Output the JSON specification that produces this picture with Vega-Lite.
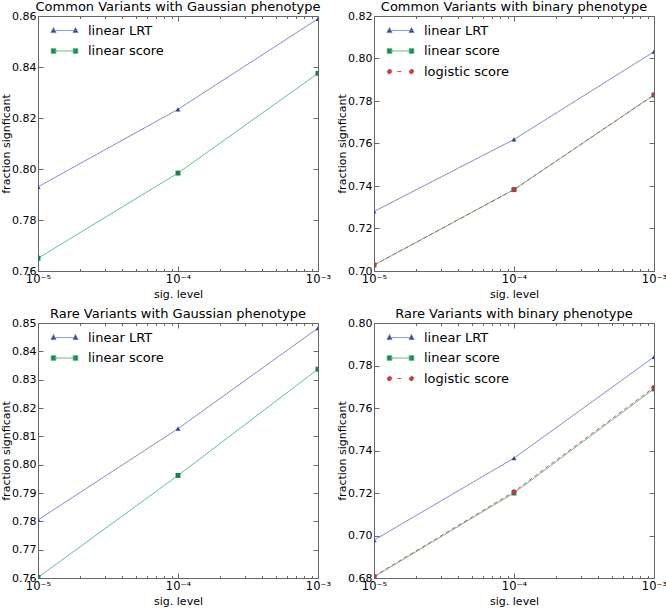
{
  "$schema": "https://vega.github.io/schema/vega-lite/v6.json",
  "autosize": {"type": "pad"},
  "padding": {"left": 0, "top": 0, "right": 0, "bottom": 0},
  "background": "white",
  "data": {"values": [
    {"panel": "cg", "series": "linear LRT", "alpha": 0.00001, "frac": 0.7930},
    {"panel": "cg", "series": "linear LRT", "alpha": 0.0001, "frac": 0.8234},
    {"panel": "cg", "series": "linear LRT", "alpha": 0.001, "frac": 0.8589},
    {"panel": "cg", "series": "linear score", "alpha": 0.00001, "frac": 0.7650},
    {"panel": "cg", "series": "linear score", "alpha": 0.0001, "frac": 0.7984},
    {"panel": "cg", "series": "linear score", "alpha": 0.001, "frac": 0.8375},
    {"panel": "cb", "series": "linear LRT", "alpha": 0.00001, "frac": 0.7280},
    {"panel": "cb", "series": "linear LRT", "alpha": 0.0001, "frac": 0.7619},
    {"panel": "cb", "series": "linear LRT", "alpha": 0.001, "frac": 0.8032},
    {"panel": "cb", "series": "linear score", "alpha": 0.00001, "frac": 0.7028},
    {"panel": "cb", "series": "linear score", "alpha": 0.0001, "frac": 0.7383},
    {"panel": "cb", "series": "linear score", "alpha": 0.001, "frac": 0.7828},
    {"panel": "cb", "series": "logistic score", "alpha": 0.00001, "frac": 0.7028},
    {"panel": "cb", "series": "logistic score", "alpha": 0.0001, "frac": 0.7383},
    {"panel": "cb", "series": "logistic score", "alpha": 0.001, "frac": 0.7829},
    {"panel": "rg", "series": "linear LRT", "alpha": 0.00001, "frac": 0.7805},
    {"panel": "rg", "series": "linear LRT", "alpha": 0.0001, "frac": 0.8127},
    {"panel": "rg", "series": "linear LRT", "alpha": 0.001, "frac": 0.8482},
    {"panel": "rg", "series": "linear score", "alpha": 0.00001, "frac": 0.7602},
    {"panel": "rg", "series": "linear score", "alpha": 0.0001, "frac": 0.7962},
    {"panel": "rg", "series": "linear score", "alpha": 0.001, "frac": 0.8337},
    {"panel": "rb", "series": "linear LRT", "alpha": 0.00001, "frac": 0.6978},
    {"panel": "rb", "series": "linear LRT", "alpha": 0.0001, "frac": 0.7364},
    {"panel": "rb", "series": "linear LRT", "alpha": 0.001, "frac": 0.7840},
    {"panel": "rb", "series": "linear score", "alpha": 0.00001, "frac": 0.6805},
    {"panel": "rb", "series": "linear score", "alpha": 0.0001, "frac": 0.7200},
    {"panel": "rb", "series": "linear score", "alpha": 0.001, "frac": 0.7690},
    {"panel": "rb", "series": "logistic score", "alpha": 0.00001, "frac": 0.6808},
    {"panel": "rb", "series": "logistic score", "alpha": 0.0001, "frac": 0.7206},
    {"panel": "rb", "series": "logistic score", "alpha": 0.001, "frac": 0.7697}
  ]},
  "columns": 2,
  "spacing": {"row": 52, "column": 56},
  "bounds": "flush",
  "concat": [
    {
      "title": {"text": "Common Variants with Gaussian phenotype", "frame": "group"},
      "width": 280, "height": 255,
      "transform": [{"filter": "datum.panel === 'cg'"}],
      "layer": [
        {"mark": {"type": "line", "strokeWidth": 1, "clip": true},
         "encoding": {
           "x": {"field": "alpha", "type": "quantitative", "scale": {"type": "log", "domain": [0.00001, 0.001]},
                 "axis": {"orient": "bottom", "title": "sig. level", "values": [0.00001,0.00002,0.00003,0.00004,0.00005,0.00006,0.00007,0.00008,0.00009,0.0001,0.0002,0.0003,0.0004,0.0005,0.0006,0.0007,0.0008,0.0009,0.001],
                          "labelExpr": "datum.value === 0.00001 ? '10⁻⁵' : datum.value === 0.0001 ? '10⁻⁴' : datum.value === 0.001 ? '10⁻³' : ''",
                          "tickSize": {"condition": {"test": "indexof([0.00001,0.0001,0.001], datum.value) >= 0", "value": -5}, "value": -2.5},
                          "labelPadding": 7, "labelFontSize": 11.5, "titlePadding": 1}},
           "y": {"field": "frac", "type": "quantitative", "scale": {"domain": [0.76, 0.86], "zero": false, "nice": false},
                 "axis": {"orient": "left", "title": "fraction signficant", "values": [0.76,0.78,0.80,0.82,0.84,0.86], "format": ".2f", "tickSize": -5, "labelPadding": 7, "titlePadding": 0}},
           "color": {"field": "series", "type": "nominal", "scale": {"range": ["#6d7dc0", "#4db57f", "#d0565b"]},
                     "legend": {"orient": "none", "legendX": 19, "legendY": 7, "title": null, "symbolSize": 196, "labelFontSize": 13, "labelOffset": 16, "rowPadding": 5.5, "padding": 0, "symbolStrokeWidth": 1,
                       "encode": {"symbols": {"update": {
                         "shape": {"signal": "datum.value === 'linear LRT' ? 'M-1.57,0H1.57M-1.57,-0.42L-1.93,0.3L-1.21,0.3ZM1.57,-0.42L1.21,0.3L1.93,0.3Z' : datum.value === 'linear score' ? 'M-1.57,0H1.57M-1.9,-0.33H-1.24V0.33H-1.9ZM1.24,-0.33H1.9V0.33H1.24Z' : 'M-1.57,0H-1.2M-0.45,0H0.45M1.2,0H1.57M-1.9,0A0.33,0.33 0 1,0 -1.24,0A0.33,0.33 0 1,0 -1.9,0ZM1.24,0A0.33,0.33 0 1,0 1.9,0A0.33,0.33 0 1,0 1.24,0Z'"},
                         "fill": {"signal": "datum.value === 'linear LRT' ? '#2f3f8f' : datum.value === 'linear score' ? '#1a7f4b' : '#c0393f'"},
                         "stroke": {"signal": "datum.value === 'linear LRT' ? '#6d7dc0' : datum.value === 'linear score' ? '#4db57f' : '#d0565b'"}
                       }}}}},
           "strokeDash": {"field": "series", "type": "nominal", "scale": {"range": [[1, 0], [1, 0], [4, 3]]}, "legend": null}
         }},
        {"mark": {"type": "point", "filled": true, "clip": true, "opacity": 1, "size": 24},
         "encoding": {
           "x": {"field": "alpha", "type": "quantitative", "scale": {"type": "log", "domain": [0.00001, 0.001]},
                 "axis": {"orient": "top", "title": null, "labels": false, "domain": false, "values": [0.00001,0.00002,0.00003,0.00004,0.00005,0.00006,0.00007,0.00008,0.00009,0.0001,0.0002,0.0003,0.0004,0.0005,0.0006,0.0007,0.0008,0.0009,0.001],
                          "tickSize": {"condition": {"test": "indexof([0.00001,0.0001,0.001], datum.value) >= 0", "value": -5}, "value": -2.5}}},
           "y": {"field": "frac", "type": "quantitative", "scale": {"domain": [0.76, 0.86], "zero": false, "nice": false},
                 "axis": {"orient": "right", "title": null, "labels": false, "domain": false, "values": [0.76,0.78,0.80,0.82,0.84,0.86], "tickSize": -5}},
           "shape": {"field": "series", "type": "nominal", "scale": {"range": ["triangle-up", "square", "circle"]}, "legend": null},
           "fill": {"field": "series", "type": "nominal", "scale": {"range": ["#2f3f8f", "#1a7f4b", "#c0393f"]}, "legend": null}
         }}
      ],
      "resolve": {"axis": {"x": "independent", "y": "independent"}}
    },
    {
      "title": {"text": "Common Variants with binary phenotype", "frame": "group"},
      "width": 280, "height": 255,
      "transform": [{"filter": "datum.panel === 'cb'"}],
      "layer": [
        {"mark": {"type": "line", "strokeWidth": 1, "clip": true},
         "encoding": {
           "x": {"field": "alpha", "type": "quantitative", "scale": {"type": "log", "domain": [0.00001, 0.001]},
                 "axis": {"orient": "bottom", "title": "sig. level", "values": [0.00001,0.00002,0.00003,0.00004,0.00005,0.00006,0.00007,0.00008,0.00009,0.0001,0.0002,0.0003,0.0004,0.0005,0.0006,0.0007,0.0008,0.0009,0.001],
                          "labelExpr": "datum.value === 0.00001 ? '10⁻⁵' : datum.value === 0.0001 ? '10⁻⁴' : datum.value === 0.001 ? '10⁻³' : ''",
                          "tickSize": {"condition": {"test": "indexof([0.00001,0.0001,0.001], datum.value) >= 0", "value": -5}, "value": -2.5},
                          "labelPadding": 7, "labelFontSize": 11.5, "titlePadding": 1}},
           "y": {"field": "frac", "type": "quantitative", "scale": {"domain": [0.70, 0.82], "zero": false, "nice": false},
                 "axis": {"orient": "left", "title": "fraction signficant", "values": [0.70,0.72,0.74,0.76,0.78,0.80,0.82], "format": ".2f", "tickSize": -5, "labelPadding": 7, "titlePadding": 0}},
           "color": {"field": "series", "type": "nominal", "scale": {"range": ["#6d7dc0", "#4db57f", "#d0565b"]},
                     "legend": {"orient": "none", "legendX": 19, "legendY": 7, "title": null, "symbolSize": 196, "labelFontSize": 13, "labelOffset": 16, "rowPadding": 5.5, "padding": 0, "symbolStrokeWidth": 1,
                       "encode": {"symbols": {"update": {
                         "shape": {"signal": "datum.value === 'linear LRT' ? 'M-1.57,0H1.57M-1.57,-0.42L-1.93,0.3L-1.21,0.3ZM1.57,-0.42L1.21,0.3L1.93,0.3Z' : datum.value === 'linear score' ? 'M-1.57,0H1.57M-1.9,-0.33H-1.24V0.33H-1.9ZM1.24,-0.33H1.9V0.33H1.24Z' : 'M-1.57,0H-1.2M-0.45,0H0.45M1.2,0H1.57M-1.9,0A0.33,0.33 0 1,0 -1.24,0A0.33,0.33 0 1,0 -1.9,0ZM1.24,0A0.33,0.33 0 1,0 1.9,0A0.33,0.33 0 1,0 1.24,0Z'"},
                         "fill": {"signal": "datum.value === 'linear LRT' ? '#2f3f8f' : datum.value === 'linear score' ? '#1a7f4b' : '#c0393f'"},
                         "stroke": {"signal": "datum.value === 'linear LRT' ? '#6d7dc0' : datum.value === 'linear score' ? '#4db57f' : '#d0565b'"}
                       }}}}},
           "strokeDash": {"field": "series", "type": "nominal", "scale": {"range": [[1, 0], [1, 0], [4, 3]]}, "legend": null}
         }},
        {"mark": {"type": "point", "filled": true, "clip": true, "opacity": 1, "size": 24},
         "encoding": {
           "x": {"field": "alpha", "type": "quantitative", "scale": {"type": "log", "domain": [0.00001, 0.001]},
                 "axis": {"orient": "top", "title": null, "labels": false, "domain": false, "values": [0.00001,0.00002,0.00003,0.00004,0.00005,0.00006,0.00007,0.00008,0.00009,0.0001,0.0002,0.0003,0.0004,0.0005,0.0006,0.0007,0.0008,0.0009,0.001],
                          "tickSize": {"condition": {"test": "indexof([0.00001,0.0001,0.001], datum.value) >= 0", "value": -5}, "value": -2.5}}},
           "y": {"field": "frac", "type": "quantitative", "scale": {"domain": [0.70, 0.82], "zero": false, "nice": false},
                 "axis": {"orient": "right", "title": null, "labels": false, "domain": false, "values": [0.70,0.72,0.74,0.76,0.78,0.80,0.82], "tickSize": -5}},
           "shape": {"field": "series", "type": "nominal", "scale": {"range": ["triangle-up", "square", "circle"]}, "legend": null},
           "fill": {"field": "series", "type": "nominal", "scale": {"range": ["#2f3f8f", "#1a7f4b", "#c0393f"]}, "legend": null}
         }}
      ],
      "resolve": {"axis": {"x": "independent", "y": "independent"}}
    },
    {
      "title": {"text": "Rare Variants with Gaussian phenotype", "frame": "group"},
      "width": 280, "height": 255,
      "transform": [{"filter": "datum.panel === 'rg'"}],
      "layer": [
        {"mark": {"type": "line", "strokeWidth": 1, "clip": true},
         "encoding": {
           "x": {"field": "alpha", "type": "quantitative", "scale": {"type": "log", "domain": [0.00001, 0.001]},
                 "axis": {"orient": "bottom", "title": "sig. level", "values": [0.00001,0.00002,0.00003,0.00004,0.00005,0.00006,0.00007,0.00008,0.00009,0.0001,0.0002,0.0003,0.0004,0.0005,0.0006,0.0007,0.0008,0.0009,0.001],
                          "labelExpr": "datum.value === 0.00001 ? '10⁻⁵' : datum.value === 0.0001 ? '10⁻⁴' : datum.value === 0.001 ? '10⁻³' : ''",
                          "tickSize": {"condition": {"test": "indexof([0.00001,0.0001,0.001], datum.value) >= 0", "value": -5}, "value": -2.5},
                          "labelPadding": 7, "labelFontSize": 11.5, "titlePadding": 1}},
           "y": {"field": "frac", "type": "quantitative", "scale": {"domain": [0.76, 0.85], "zero": false, "nice": false},
                 "axis": {"orient": "left", "title": "fraction signficant", "values": [0.76,0.77,0.78,0.79,0.80,0.81,0.82,0.83,0.84,0.85], "format": ".2f", "tickSize": -5, "labelPadding": 7, "titlePadding": 0}},
           "color": {"field": "series", "type": "nominal", "scale": {"range": ["#6d7dc0", "#4db57f", "#d0565b"]},
                     "legend": {"orient": "none", "legendX": 19, "legendY": 7, "title": null, "symbolSize": 196, "labelFontSize": 13, "labelOffset": 16, "rowPadding": 5.5, "padding": 0, "symbolStrokeWidth": 1,
                       "encode": {"symbols": {"update": {
                         "shape": {"signal": "datum.value === 'linear LRT' ? 'M-1.57,0H1.57M-1.57,-0.42L-1.93,0.3L-1.21,0.3ZM1.57,-0.42L1.21,0.3L1.93,0.3Z' : datum.value === 'linear score' ? 'M-1.57,0H1.57M-1.9,-0.33H-1.24V0.33H-1.9ZM1.24,-0.33H1.9V0.33H1.24Z' : 'M-1.57,0H-1.2M-0.45,0H0.45M1.2,0H1.57M-1.9,0A0.33,0.33 0 1,0 -1.24,0A0.33,0.33 0 1,0 -1.9,0ZM1.24,0A0.33,0.33 0 1,0 1.9,0A0.33,0.33 0 1,0 1.24,0Z'"},
                         "fill": {"signal": "datum.value === 'linear LRT' ? '#2f3f8f' : datum.value === 'linear score' ? '#1a7f4b' : '#c0393f'"},
                         "stroke": {"signal": "datum.value === 'linear LRT' ? '#6d7dc0' : datum.value === 'linear score' ? '#4db57f' : '#d0565b'"}
                       }}}}},
           "strokeDash": {"field": "series", "type": "nominal", "scale": {"range": [[1, 0], [1, 0], [4, 3]]}, "legend": null}
         }},
        {"mark": {"type": "point", "filled": true, "clip": true, "opacity": 1, "size": 24},
         "encoding": {
           "x": {"field": "alpha", "type": "quantitative", "scale": {"type": "log", "domain": [0.00001, 0.001]},
                 "axis": {"orient": "top", "title": null, "labels": false, "domain": false, "values": [0.00001,0.00002,0.00003,0.00004,0.00005,0.00006,0.00007,0.00008,0.00009,0.0001,0.0002,0.0003,0.0004,0.0005,0.0006,0.0007,0.0008,0.0009,0.001],
                          "tickSize": {"condition": {"test": "indexof([0.00001,0.0001,0.001], datum.value) >= 0", "value": -5}, "value": -2.5}}},
           "y": {"field": "frac", "type": "quantitative", "scale": {"domain": [0.76, 0.85], "zero": false, "nice": false},
                 "axis": {"orient": "right", "title": null, "labels": false, "domain": false, "values": [0.76,0.77,0.78,0.79,0.80,0.81,0.82,0.83,0.84,0.85], "tickSize": -5}},
           "shape": {"field": "series", "type": "nominal", "scale": {"range": ["triangle-up", "square", "circle"]}, "legend": null},
           "fill": {"field": "series", "type": "nominal", "scale": {"range": ["#2f3f8f", "#1a7f4b", "#c0393f"]}, "legend": null}
         }}
      ],
      "resolve": {"axis": {"x": "independent", "y": "independent"}}
    },
    {
      "title": {"text": "Rare Variants with binary phenotype", "frame": "group"},
      "width": 280, "height": 255,
      "transform": [{"filter": "datum.panel === 'rb'"}],
      "layer": [
        {"mark": {"type": "line", "strokeWidth": 1, "clip": true},
         "encoding": {
           "x": {"field": "alpha", "type": "quantitative", "scale": {"type": "log", "domain": [0.00001, 0.001]},
                 "axis": {"orient": "bottom", "title": "sig. level", "values": [0.00001,0.00002,0.00003,0.00004,0.00005,0.00006,0.00007,0.00008,0.00009,0.0001,0.0002,0.0003,0.0004,0.0005,0.0006,0.0007,0.0008,0.0009,0.001],
                          "labelExpr": "datum.value === 0.00001 ? '10⁻⁵' : datum.value === 0.0001 ? '10⁻⁴' : datum.value === 0.001 ? '10⁻³' : ''",
                          "tickSize": {"condition": {"test": "indexof([0.00001,0.0001,0.001], datum.value) >= 0", "value": -5}, "value": -2.5},
                          "labelPadding": 7, "labelFontSize": 11.5, "titlePadding": 1}},
           "y": {"field": "frac", "type": "quantitative", "scale": {"domain": [0.68, 0.80], "zero": false, "nice": false},
                 "axis": {"orient": "left", "title": "fraction signficant", "values": [0.68,0.70,0.72,0.74,0.76,0.78,0.80], "format": ".2f", "tickSize": -5, "labelPadding": 7, "titlePadding": 0}},
           "color": {"field": "series", "type": "nominal", "scale": {"range": ["#6d7dc0", "#4db57f", "#d0565b"]},
                     "legend": {"orient": "none", "legendX": 19, "legendY": 7, "title": null, "symbolSize": 196, "labelFontSize": 13, "labelOffset": 16, "rowPadding": 5.5, "padding": 0, "symbolStrokeWidth": 1,
                       "encode": {"symbols": {"update": {
                         "shape": {"signal": "datum.value === 'linear LRT' ? 'M-1.57,0H1.57M-1.57,-0.42L-1.93,0.3L-1.21,0.3ZM1.57,-0.42L1.21,0.3L1.93,0.3Z' : datum.value === 'linear score' ? 'M-1.57,0H1.57M-1.9,-0.33H-1.24V0.33H-1.9ZM1.24,-0.33H1.9V0.33H1.24Z' : 'M-1.57,0H-1.2M-0.45,0H0.45M1.2,0H1.57M-1.9,0A0.33,0.33 0 1,0 -1.24,0A0.33,0.33 0 1,0 -1.9,0ZM1.24,0A0.33,0.33 0 1,0 1.9,0A0.33,0.33 0 1,0 1.24,0Z'"},
                         "fill": {"signal": "datum.value === 'linear LRT' ? '#2f3f8f' : datum.value === 'linear score' ? '#1a7f4b' : '#c0393f'"},
                         "stroke": {"signal": "datum.value === 'linear LRT' ? '#6d7dc0' : datum.value === 'linear score' ? '#4db57f' : '#d0565b'"}
                       }}}}},
           "strokeDash": {"field": "series", "type": "nominal", "scale": {"range": [[1, 0], [1, 0], [4, 3]]}, "legend": null}
         }},
        {"mark": {"type": "point", "filled": true, "clip": true, "opacity": 1, "size": 24},
         "encoding": {
           "x": {"field": "alpha", "type": "quantitative", "scale": {"type": "log", "domain": [0.00001, 0.001]},
                 "axis": {"orient": "top", "title": null, "labels": false, "domain": false, "values": [0.00001,0.00002,0.00003,0.00004,0.00005,0.00006,0.00007,0.00008,0.00009,0.0001,0.0002,0.0003,0.0004,0.0005,0.0006,0.0007,0.0008,0.0009,0.001],
                          "tickSize": {"condition": {"test": "indexof([0.00001,0.0001,0.001], datum.value) >= 0", "value": -5}, "value": -2.5}}},
           "y": {"field": "frac", "type": "quantitative", "scale": {"domain": [0.68, 0.80], "zero": false, "nice": false},
                 "axis": {"orient": "right", "title": null, "labels": false, "domain": false, "values": [0.68,0.70,0.72,0.74,0.76,0.78,0.80], "tickSize": -5}},
           "shape": {"field": "series", "type": "nominal", "scale": {"range": ["triangle-up", "square", "circle"]}, "legend": null},
           "fill": {"field": "series", "type": "nominal", "scale": {"range": ["#2f3f8f", "#1a7f4b", "#c0393f"]}, "legend": null}
         }}
      ],
      "resolve": {"axis": {"x": "independent", "y": "independent"}}
    }
  ],
  "resolve": {"scale": {"color": "independent", "fill": "independent", "shape": "independent", "strokeDash": "independent"},
              "legend": {"color": "independent"}},
  "config": {
    "font": "DejaVu Sans",
    "view": {"stroke": "#666", "strokeWidth": 1},
    "axis": {"grid": false, "labelFontSize": 11, "titleFontSize": 11, "titleFontWeight": "normal", "labelColor": "#000", "titleColor": "#000",
             "domainColor": "#666", "tickColor": "#666", "labelFlush": false, "labelOverlap": false, "labelBound": false},
    "title": {"fontSize": 13, "fontWeight": "normal", "offset": -4, "anchor": "middle", "color": "#000"},
    "legend": {"labelColor": "#000", "labelFont": "DejaVu Sans"}
  }
}
